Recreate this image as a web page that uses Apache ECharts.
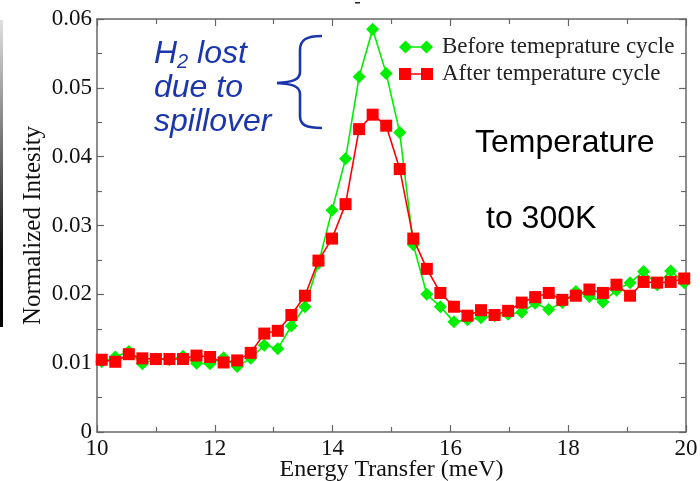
<!DOCTYPE html>
<html>
<head>
<meta charset="utf-8">
<script src="https://cdn.jsdelivr.net/npm/echarts@6/dist/echarts.min.js"></script>
<style>
  html, body { margin: 0; padding: 0; background: #fff; }
  #chart { width: 700px; height: 481px; }
</style>
</head>
<body>
<div id="chart"></div>
<script>
// Energy transfer (meV) of each measured point
const energy = [10.08, 10.31, 10.54, 10.77, 11.00, 11.23, 11.46, 11.69, 11.92, 12.15,
  12.38, 12.61, 12.84, 13.07, 13.30, 13.53, 13.76, 13.99, 14.22, 14.45,
  14.68, 14.91, 15.14, 15.37, 15.60, 15.83, 16.06, 16.29, 16.52, 16.75,
  16.98, 17.21, 17.44, 17.67, 17.90, 18.13, 18.36, 18.59, 18.82, 19.05,
  19.28, 19.51, 19.74, 19.97];

// Normalized intensity before the temperature cycle
const before = [0.0102, 0.0109, 0.0117, 0.0099, 0.0106, 0.0105, 0.0110, 0.0100, 0.0099, 0.0108,
  0.0095, 0.0107, 0.0126, 0.0121, 0.0154, 0.0182, 0.0245, 0.0322, 0.0397, 0.0516,
  0.0585, 0.0521, 0.0435, 0.0272, 0.0200, 0.0182, 0.0160, 0.0163, 0.0166, 0.0169,
  0.0171, 0.0174, 0.0187, 0.0178, 0.0188, 0.0204, 0.0197, 0.0189, 0.0206, 0.0217,
  0.0233, 0.0214, 0.0234, 0.0217];

// Normalized intensity after the temperature cycle
const after = [0.0105, 0.0102, 0.0113, 0.0107, 0.0106, 0.0106, 0.0106, 0.0111, 0.0109, 0.0101,
  0.0104, 0.0115, 0.0143, 0.0147, 0.0170, 0.0198, 0.0249, 0.0281, 0.0331, 0.0440,
  0.0461, 0.0445, 0.0382, 0.0281, 0.0237, 0.0202, 0.0182, 0.0169, 0.0177, 0.0170,
  0.0176, 0.0188, 0.0196, 0.0202, 0.0192, 0.0198, 0.0207, 0.0202, 0.0214, 0.0198,
  0.0218, 0.0217, 0.0218, 0.0223];

const seriesNames = ['Before temeprature cycle', 'After temperature cycle'];
const xRange = [10, 20, 2];      // min, max, major step
const yRange = [0, 0.06, 0.01];  // min, max, major step

const serif = '"Liberation Serif", "Times New Roman", serif';
const sans = '"Liberation Sans", Arial, sans-serif';
const frame = '#666';
const blue = '#1b36ad';

function pairs(xs, ys) { return xs.map((x, i) => [x, ys[i]]); }

// legend glyphs: two markers joined by a short line
const diamondIcon = 'path://M0,6.5L6.5,0L13,6.5L6.5,13Z M21,6.5L27.5,0L34,6.5L27.5,13Z M10,5.7L24,5.7L24,7.3L10,7.3Z';
const squareIcon = 'path://M0,0.5L12,0.5L12,12.5L0,12.5Z M22,0.5L34,0.5L34,12.5L22,12.5Z M10,5.7L24,5.7L24,7.3L10,7.3Z';

function frameAxis(pos, showLabels, range) {
  return {
    type: 'value', position: pos,
    min: range[0], max: range[1], interval: range[2],
    nameMoveOverlap: false,
    axisLine: { show: true, onZero: false, lineStyle: { color: frame, width: 1.5 } },
    axisTick: { show: true, inside: true, length: 7, lineStyle: { color: frame, width: 1.2 } },
    minorTick: { show: true, splitNumber: 2, length: 5, lineStyle: { color: frame, width: 1.2 } },
    splitLine: { show: false },
    axisLabel: { show: showLabels, color: '#111', fontFamily: serif, fontSize: 23, margin: 5 }
  };
}

const xMain = frameAxis('bottom', true, xRange);
xMain.name = 'Energy Transfer (meV)';
xMain.nameLocation = 'middle';
xMain.nameGap = 26;
xMain.nameTextStyle = { color: '#111', fontFamily: serif, fontSize: 24, verticalAlign: 'top' };
const xTop = frameAxis('top', false, xRange);

const yMain = frameAxis('left', true, yRange);
yMain.name = 'Normalized Intesity';
yMain.nameLocation = 'middle';
yMain.nameGap = 51;
yMain.nameTextStyle = { color: '#111', fontFamily: serif, fontSize: 25 };
const yRight = frameAxis('right', false, yRange);

// curly brace pieces
const braceStyle = { stroke: blue, lineWidth: 2.6, fill: null };
const brace = [
  { type: 'bezierCurve', shape: { x1: 322, y1: 36, cpx1: 306, cpy1: 36, cpx2: 300, cpy2: 40, x2: 300, y2: 50 } },
  { type: 'line', shape: { x1: 300, y1: 50, x2: 300, y2: 72 } },
  { type: 'bezierCurve', shape: { x1: 300, y1: 72, cpx1: 300, cpy1: 80, cpx2: 292, cpy2: 82, x2: 277, y2: 83 } },
  { type: 'bezierCurve', shape: { x1: 277, y1: 83, cpx1: 292, cpy1: 84, cpx2: 300, cpy2: 86, x2: 300, y2: 94 } },
  { type: 'line', shape: { x1: 300, y1: 94, x2: 300, y2: 116 } },
  { type: 'bezierCurve', shape: { x1: 300, y1: 116, cpx1: 300, cpy1: 125, cpx2: 306, cpy2: 128, x2: 322, y2: 128 } }
].map(el => Object.assign(el, { style: braceStyle }));

const chart = echarts.init(document.getElementById('chart'), null, { renderer: 'canvas' });
chart.setOption({
  backgroundColor: '#fff',
  animation: false,
  grid: { left: 97, right: 14, top: 19, bottom: 49, containLabel: false, outerBoundsMode: 'none' },
  xAxis: [xMain, xTop],
  yAxis: [yMain, yRight],
  legend: {
    orient: 'vertical', left: 394, top: 30,
    itemWidth: 34, itemHeight: 13, itemGap: 3,
    textStyle: { fontFamily: serif, fontSize: 23, color: '#222', lineHeight: 24, padding: [0, 0, 0, 4] },
    data: [
      { name: seriesNames[0], icon: diamondIcon },
      { name: seriesNames[1], icon: squareIcon }
    ]
  },
  series: [
    {
      name: seriesNames[0], type: 'line', xAxisIndex: 0, yAxisIndex: 0,
      data: pairs(energy, before),
      symbol: 'diamond', symbolSize: 13,
      itemStyle: { color: '#00ee00' },
      lineStyle: { color: '#00ee00', width: 1.6 },
      z: 2
    },
    {
      name: seriesNames[1], type: 'line', xAxisIndex: 0, yAxisIndex: 0,
      data: pairs(energy, after),
      symbol: 'rect', symbolSize: 12,
      itemStyle: { color: '#ff0000' },
      lineStyle: { color: '#ff0000', width: 1.6 },
      z: 3
    }
  ],
  graphic: [
    // dark strip along the left edge
    {
      type: 'rect', left: 0, top: 20, shape: { width: 3, height: 307 },
      style: { fill: { type: 'linear', x: 0, y: 0, x2: 0, y2: 1, colorStops: [
        { offset: 0, color: '#e0e0e0' }, { offset: 0.45, color: '#666' }, { offset: 0.75, color: '#111' }, { offset: 1, color: '#000' }
      ] } }
    },
    { type: 'rect', left: 355, top: 2, shape: { width: 5, height: 1.5 }, style: { fill: '#222' } },
    ...brace,
    {
      type: 'text', left: 154, top: 37,
      style: {
        text: '{a|H}{s|2}{a| lost}\n{a|due to}\n{a|spillover}',
        fill: blue,
        rich: {
          a: { fontFamily: sans, fontStyle: 'italic', fontSize: 32, lineHeight: 34, fill: blue },
          s: { fontFamily: sans, fontStyle: 'italic', fontSize: 20, lineHeight: 34, padding: [15, 0, 0, 0], fill: blue }
        }
      }
    },
    {
      type: 'text', left: 475, top: 127,
      style: { text: 'Temperature', font: '32px ' + sans, fill: '#000' }
    },
    {
      type: 'text', left: 486, top: 203,
      style: { text: 'to 300K', font: '32px ' + sans, fill: '#000' }
    }
  ]
});
</script>
</body>
</html>
